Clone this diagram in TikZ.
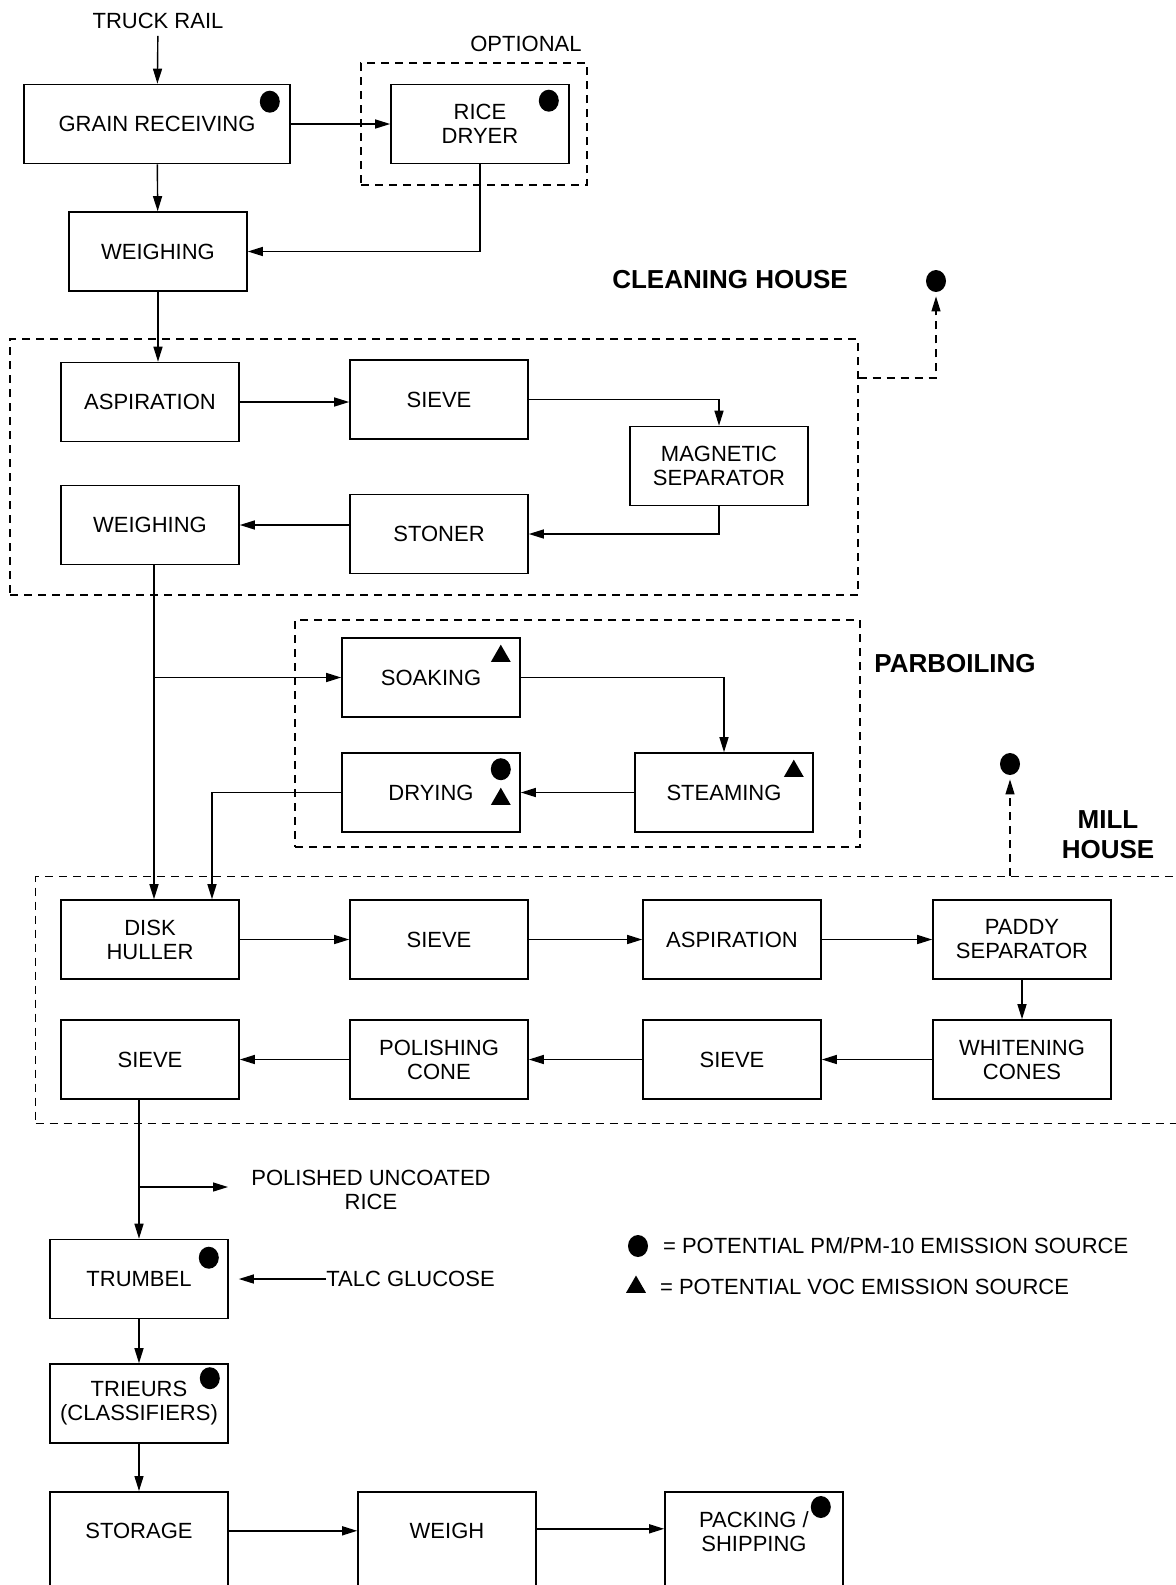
\documentclass[tikz,border=0pt]{standalone}
\usepackage{fontspec}
\setmainfont{Liberation Sans}
\usepackage{tikz}
\usetikzlibrary{shapes,arrows.meta}
\tikzstyle{line} = [line width=0.7pt, -{Triangle[length=7.5pt,width=4.5pt]}]
\tikzstyle{emis} = [line width=0.6pt, dash pattern=on 4pt off 3pt, shorten >=2pt, -{Triangle[length=7.5pt,width=4.5pt]}]
\tikzstyle{block} = [draw, rectangle, line width=0.8pt, inner sep=3pt, minimum width=89pt, minimum height=39.5pt, align=center, font={\fontsize{11}{12}\selectfont}]
\tikzstyle{cutblock} = [block, anchor=north, minimum height=0pt, text height=20.5pt, text depth=45pt]
\tikzstyle{area} = [draw, rectangle, line width=0.6pt, dash pattern=on 4pt off 3pt]
\tikzstyle{tag} = [align=center, font={\fontsize{11}{12}\selectfont}]
\tikzstyle{head} = [align=center, font={\fontsize{13}{15}\selectfont\bfseries}]
\tikzstyle{pm} = [ellipse, fill, inner sep=0pt, minimum width=10pt, minimum height=11pt]
\tikzstyle{voc} = [regular polygon, regular polygon sides=3, fill, inner sep=0pt, minimum size=11.5pt]

\begin{document}
\begin{tikzpicture}[x=0.5pt,y=-0.5pt]
        \useasboundingbox (0,0) rectangle (1176,1585);
        \clip (0,0) rectangle (1176,1585);
        % receiving
        \node[tag](truck) at (158,21){TRUCK RAIL};
        \node[block, minimum width=133pt](grain) at (157,124){GRAIN RECEIVING};
        \node[block](dryer) at (480,124){RICE\\DRYER};
        \node[area, minimum width=113pt, minimum height=61pt](optional) at (474,124){};
        \node[tag](optlabel) at (526,44){OPTIONAL};
        \node[block](weighone) at (158,251.5){WEIGHING};
        \node[pm] at ([xshift=-10.5pt,yshift=-9pt]grain.north east){};
        \node[pm] at ([xshift=-10.5pt,yshift=-8.5pt]dryer.north east){};
        % cleaning house
        \node[area, minimum width=424pt, minimum height=128pt](cleaning) at (434,467){};
        \node[head](cleanlabel) at (730,280){CLEANING HOUSE};
        \node[pm](cleandot) at (936,281){};
        \node[block](aspone) at (150,402){ASPIRATION};
        \node[block](sieveone) at (439,399.5){SIEVE};
        \node[block](magnet) at (719,466){MAGNETIC\\SEPARATOR};
        \node[block](weightwo) at (150,525){WEIGHING};
        \node[block](stoner) at (439,534){STONER};
        % parboiling
        \node[area, minimum width=282.5pt, minimum height=113.5pt](parboil) at (577.5,733.5){};
        \node[head](parlabel) at (955,664){PARBOILING};
        \node[block](soak) at (431,677.5){SOAKING};
        \node[block](steam) at (724,792.5){STEAMING};
        \node[block](dry) at (431,792.5){DRYING};
        \node[voc] at ([xshift=-10pt,yshift=-9.5pt]soak.north east){};
        \node[voc] at ([xshift=-10pt,yshift=-9.5pt]steam.north east){};
        \node[pm] at ([xshift=-10pt,yshift=-8.5pt]dry.north east){};
        \node[voc] at ([xshift=-10pt,yshift=-23.5pt]dry.north east){};
        % mill house
        \node[area, anchor=north west, minimum width=590pt, minimum height=123.5pt](mill) at (35,876){};
        \node[head](milllabel) at (1108,835){MILL\\HOUSE};
        \node[pm](milldot) at (1010,764){};
        \node[block](huller) at (150,939.5){DISK\\HULLER};
        \node[block](sievetwo) at (439,939.5){SIEVE};
        \node[block](asptwo) at (732,939.5){ASPIRATION};
        \node[block](paddy) at (1022,939.5){PADDY\\SEPARATOR};
        \node[block](whiten) at (1022,1059.5){WHITENING\\CONES};
        \node[block](sievethree) at (732,1059.5){SIEVE};
        \node[block](polish) at (439,1059.5){POLISHING\\CONE};
        \node[block](sievefour) at (150,1059.5){SIEVE};
        % finishing
        \node[tag](polished) at (371,1190){POLISHED UNCOATED\\RICE};
        \coordinate (polend) at (228,1187);
        \node[block](trumbel) at (139,1279){TRUMBEL};
        \node[tag, anchor=west, inner xsep=0pt](talc) at (326,1279){TALC GLUCOSE};
        \node[block](trieurs) at (139,1403.5){TRIEURS\\(CLASSIFIERS)};
        \node[cutblock](storage) at (139,1491){STORAGE};
        \node[cutblock](weigh) at (447,1491){WEIGH};
        \node[cutblock, text height=27pt](packing) at (754,1491){PACKING /\\SHIPPING};
        \node[pm] at ([xshift=-10pt,yshift=-9.5pt]trumbel.north east){};
        \node[pm] at ([xshift=-9.5pt,yshift=-7.5pt]trieurs.north east){};
        \node[pm] at ([xshift=-11.5pt,yshift=-8pt]packing.north east){};
        % legend
        \node[pm](legpm) at (638,1246){};
        \node[tag, anchor=west](legpmtext) at (656,1246){= POTENTIAL PM/PM-10 EMISSION SOURCE};
        \node[voc](legvoc) at (636,1287){};
        \node[tag, anchor=west](legvoctext) at (653,1287){= POTENTIAL VOC EMISSION SOURCE};
        % connectors
        \path[line](truck) edge (grain);
        \path[line](grain) edge (weighone);
        \path[line](grain) edge (dryer);
        \draw[line](dryer.south) |- (weighone.east);
        \draw[line](weighone.south) -- (weighone.south |- aspone.north);
        \draw[line](aspone.east) -- (aspone.east -| sieveone.west);
        \draw[line](sieveone.east) -| (magnet.north);
        \draw[line](magnet.south) |- (stoner.east);
        \draw[line](stoner.west |- weightwo.east) -- (weightwo.east);
        \draw[emis](cleaning.east |- 0,378) -| (cleandot);
        \draw[line]([xshift=2pt]weightwo.south) -- ([xshift=2pt]huller.north);
        \draw[line]([xshift=2pt]weightwo.south |- soak.west) -- (soak.west);
        \draw[line](soak.east) -| (steam.north);
        \path[line](steam) edge (dry);
        \draw[line](dry.west) -| ([xshift=31pt]huller.north);
        \draw[emis](mill.north -| milldot) -- (milldot);
        \path[line](huller) edge (sievetwo);
        \path[line](sievetwo) edge (asptwo);
        \path[line](asptwo) edge (paddy);
        \path[line](paddy) edge (whiten);
        \path[line](whiten) edge (sievethree);
        \path[line](sievethree) edge (polish);
        \path[line](polish) edge (sievefour);
        \draw[line](trumbel.north |- sievefour.south) -- (trumbel.north);
        \draw[line](trumbel.north |- polend) -- (polend);
        \draw[line, shorten >=5pt](talc.west) -- (trumbel.east);
        \path[line](trumbel) edge (trieurs);
        \path[line](trieurs) edge (storage);
        \draw[line]([yshift=4pt]storage.base east) -- ([yshift=4pt]weigh.base west);
        \draw[line]([yshift=5pt]weigh.base east) -- ([yshift=5pt]weigh.base east -| packing.west);
    \end{tikzpicture}
\end{document}
